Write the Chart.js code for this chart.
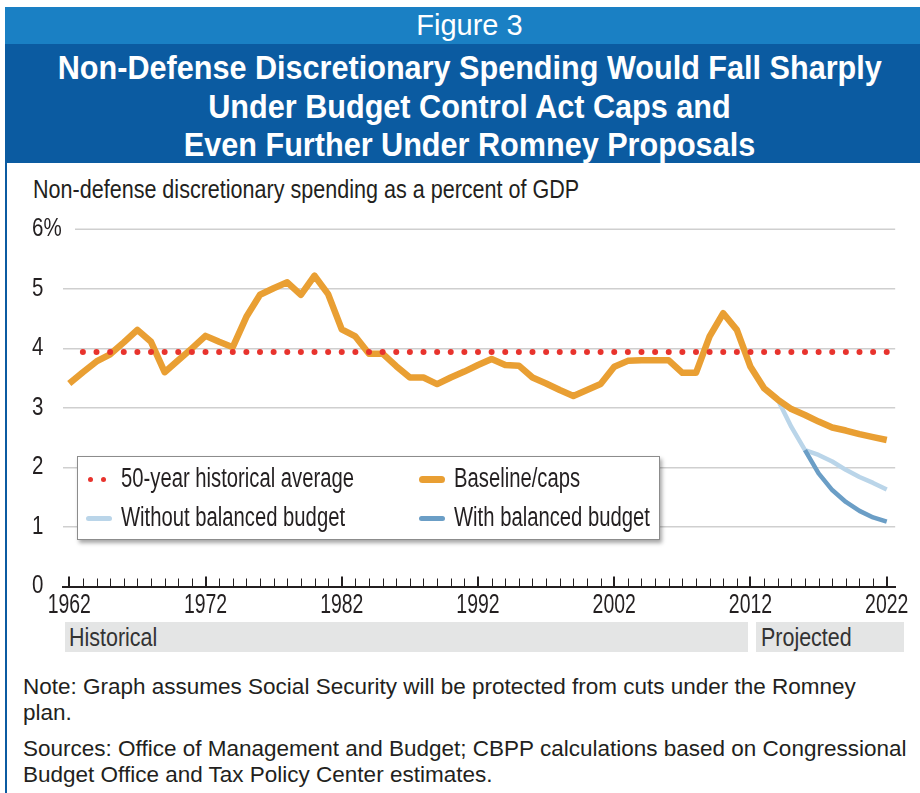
<!DOCTYPE html>
<html>
<head>
<meta charset="utf-8">
<title>Non-defense discretionary spending</title>
<script src="https://cdn.jsdelivr.net/npm/chart.js@4.4.1/dist/chart.umd.min.js"></script>
<style>
  body { margin: 0; width: 920px; height: 793px; background: #fff; position: relative; overflow: hidden;
         font-family: "Liberation Sans", Arial, sans-serif; color: #231f20; }
  .abs { position: absolute; }
  /* condensed look: squeeze text horizontally */
  .nar { display: inline-block; white-space: nowrap; transform-origin: 0 50%; }
  #figBar { left: 5px; top: 7px; width: 915px; height: 37px; background: #1a80c4; color: #fff;
            font-size: 29px; line-height: 37px; text-align: center; padding-left: 14px; box-sizing: border-box; }
  #titleBar { left: 5px; top: 44px; width: 915px; height: 119px; background: #0b5ba1; color: #fff; }
  #titleText { position: absolute; left: 7px; top: 4px; width: 915px; font-weight: bold; font-size: 34px;
               line-height: 38.5px; text-align: center; white-space: nowrap;
               transform: scaleX(0.9); transform-origin: 50% 50%; }
  #frameLine { left: 5px; top: 163px; width: 2px; height: 630px; background: #0b5ba1; }
  #subtitle { left: 33px; top: 175px; font-size: 25.5px; transform: scaleX(0.845); }
  #chartBox { left: 0; top: 170px; width: 920px; height: 450px; }
  .band { top: 622px; height: 30px; background: #e4e5e5; color: #333; overflow: hidden; }
  .band span { font-size: 26.5px; line-height: 30px; transform: scaleX(0.81); }
  #legend { left: 77px; top: 456px; width: 583px; height: 84px; background: #fff; border: 1px solid #8c8c8c;
            box-shadow: 2px 3px 4px rgba(0,0,0,0.35); box-sizing: border-box; }
  .item { position: absolute; font-size: 27px; line-height: 32px; transform: scaleX(0.75); }
  .sw { position: absolute; }
  #notes { left: 23px; top: 674px; font-size: 22.5px; line-height: 26px; color: #231f20; }
  #notes p { margin: 0 0 10px 0; }
</style>
</head>
<body>
<div id="figBar" class="abs">Figure 3</div>
<div id="titleBar" class="abs"><div id="titleText">Non-Defense Discretionary Spending Would Fall Sharply<br>Under Budget Control Act Caps and<br>Even Further Under Romney Proposals</div></div>
<div id="frameLine" class="abs"></div>
<div id="subtitle" class="abs nar">Non-defense discretionary spending as a percent of GDP</div>
<div id="chartBox" class="abs"><canvas id="chart"></canvas></div>
<div class="abs band" style="left:65px;width:683px;padding-left:4px;box-sizing:border-box;"><span class="nar">Historical</span></div>
<div class="abs band" style="left:756px;width:148px;padding-left:5px;box-sizing:border-box;"><span class="nar">Projected</span></div>
<div id="legend" class="abs"></div>
<div id="notes" class="abs">
  <p>Note: Graph assumes Social Security will be protected from cuts under the Romney<br>plan.</p>
  <p>Sources: Office of Management and Budget; CBPP calculations based on Congressional<br>Budget Office and Tax Policy Center estimates.</p>
</div>

<script>
// fiscal years 1962-2022, percent of GDP
const firstYear = 1962;
const lastYear = 2022;
const baseline = [
  3.41, 3.60, 3.78, 3.90, 4.10, 4.31, 4.11, 3.60, 3.80, 4.00,   // 1962-1971
  4.21, 4.11, 4.02, 4.53, 4.90, 5.01, 5.11, 4.90, 5.22, 4.91,   // 1972-1981
  4.32, 4.20, 3.91, 3.91, 3.70, 3.51, 3.51, 3.40, 3.51, 3.61,   // 1982-1991
  3.72, 3.82, 3.72, 3.71, 3.51, 3.41, 3.30, 3.20, 3.30, 3.40,   // 1992-2001
  3.69, 3.79, 3.80, 3.80, 3.80, 3.59, 3.59, 4.20, 4.59, 4.31,   // 2002-2011
  3.69, 3.33, 3.14, 2.98, 2.88, 2.77, 2.67, 2.62, 2.56, 2.51,   // 2012-2021
  2.46                                                          // 2022
];

// Romney proposals, starting where they leave the baseline
const withoutBalancedStart = 2014;
const withoutBalanced = [3.14, 2.68, 2.29, 2.21, 2.10, 1.96, 1.84, 1.74, 1.63];
const withBalancedStart = 2016;
const withBalanced = [2.29, 1.90, 1.62, 1.42, 1.27, 1.16, 1.09];

// 50-year average, plotted 1963-2022
const avgStart = 1963;
const historicalAverage = 3.94;

const xLabelYears = [1962, 1972, 1982, 1992, 2002, 2012, 2022];

const colors = {
  avg: '#e8332d',
  baseline: '#e99f33',
  without: '#bad5e9',
  with: '#6b9ec6',
  grid: '#cfcfcf',
  ink: '#231f20'
};

function toPoints(start, values) {
  return values.map((v, i) => ({ x: start + i, y: v }));
}

const avgPoints = [];
for (let yr = avgStart; yr <= lastYear; yr++) avgPoints.push({ x: yr, y: historicalAverage });

// linear scale whose tick labels are drawn horizontally squeezed
class NarrowLinearScale extends Chart.LinearScale {
  drawLabels(chartArea) {
    if (!this.options.ticks.display) return;
    const c = this.ctx;
    const ratio = this.options.narrow || 0.8;
    for (const item of this.getLabelItems(chartArea)) {
      const o = item.options;
      c.save();
      c.translate(o.translation[0], o.translation[1]);
      c.scale(ratio, 1);
      c.font = item.font.string;
      c.fillStyle = o.color;
      c.textAlign = o.textAlign;
      c.textBaseline = o.textBaseline;
      c.fillText(item.label, 0, item.textOffset);
      c.restore();
    }
  }
}
NarrowLinearScale.id = 'narrowLinear';
NarrowLinearScale.defaults = Chart.LinearScale.defaults;
Chart.register(NarrowLinearScale);

// small upward tick marks on the year axis, longer every 10 years
const yearTicks = {
  id: 'yearTicks',
  afterDraw(chart) {
    const xs = chart.scales.x;
    const bottom = chart.chartArea.bottom;
    const c = chart.ctx;
    c.save();
    c.strokeStyle = colors.ink;
    for (let yr = firstYear; yr <= lastYear; yr++) {
      const major = (yr - firstYear) % 10 === 0;
      const px = Math.round(xs.getPixelForValue(yr)) + (major ? 0 : 0.5);
      c.lineWidth = major ? 2 : 1;
      c.beginPath();
      c.moveTo(px, bottom);
      c.lineTo(px, bottom - (major ? 10 : 8));
      c.stroke();
    }
    c.restore();
  }
};

// the 6% rule starts after its label
const topRule = {
  id: 'topRule',
  beforeDatasetsDraw(chart) {
    const y = chart.scales.y.getPixelForValue(6);
    const c = chart.ctx;
    c.save();
    c.strokeStyle = colors.grid;
    c.lineWidth = 1.5;
    c.beginPath();
    c.moveTo(chart.chartArea.left + 12, y);
    c.lineTo(chart.chartArea.right, y);
    c.stroke();
    c.restore();
  }
};

const chart = new Chart(document.getElementById('chart'), {
  type: 'line',
  data: {
    datasets: [
      { label: '50-year historical average', data: avgPoints, showLine: false,
        pointRadius: 3, pointBackgroundColor: colors.avg, pointBorderWidth: 0 },
      { label: 'Baseline/caps', data: toPoints(firstYear, baseline), borderColor: colors.baseline,
        borderWidth: 6.5, pointRadius: 0, borderJoinStyle: 'round' },
      { label: 'With balanced budget', data: toPoints(withBalancedStart, withBalanced), borderColor: colors.with,
        borderWidth: 4.5, pointRadius: 0, borderJoinStyle: 'round' },
      { label: 'Without balanced budget', data: toPoints(withoutBalancedStart, withoutBalanced), borderColor: colors.without,
        borderWidth: 4.5, pointRadius: 0, borderJoinStyle: 'round' }
    ]
  },
  options: {
    responsive: true,
    maintainAspectRatio: false,
    animation: false,
    layout: { padding: { left: 32, top: 59.3, right: 24.3, bottom: 0 } },
    plugins: { legend: { display: false }, tooltip: { enabled: false } },
    scales: {
      x: {
        type: 'narrowLinear',
        narrow: 0.72,
        min: 1961.54,
        max: 2022.62,
        afterBuildTicks: scale => { scale.ticks = xLabelYears.map(v => ({ value: v })); },
        afterFit: scale => { scale.height = 33.5; },
        grid: { display: false, drawTicks: false },
        border: { display: true, color: colors.ink, width: 2 },
        ticks: { font: { family: 'Liberation Sans', size: 27 }, color: colors.ink, padding: 3,
                 maxRotation: 0, autoSkip: false, callback: v => String(v) }
      },
      y: {
        type: 'narrowLinear',
        narrow: 0.82,
        min: 0,
        max: 6,
        afterFit: scale => { scale.width = 31; },
        grid: { color: ctx => (ctx.tick.value === 6 ? 'rgba(0,0,0,0)' : colors.grid), lineWidth: 1.5, drawTicks: false },
        border: { display: false },
        ticks: { stepSize: 0.5, font: { family: 'Liberation Sans', size: 25 }, color: colors.ink,
                 crossAlign: 'far', padding: 0,
                 callback: v => (v === 6 ? '6%' : (Number.isInteger(v) ? String(v) : '')) }
      }
    }
  },
  plugins: [topRule, yearTicks]
});

// two-column legend inside the plot
const legendItems = [
  { label: '50-year historical average', kind: 'dots', color: colors.avg, col: 0, row: 0 },
  { label: 'Baseline/caps', kind: 'line', color: colors.baseline, col: 1, row: 0, width: 7 },
  { label: 'Without balanced budget', kind: 'line', color: colors.without, col: 0, row: 1, width: 5 },
  { label: 'With balanced budget', kind: 'line', color: colors.with, col: 1, row: 1, width: 5 }
];
const legend = document.getElementById('legend');
legendItems.forEach(it => {
  const baseX = it.col === 0 ? 8 : 341;
  const cy = it.row === 0 ? 22 : 61;
  if (it.kind === 'dots') {
    [2, 15].forEach(dx => {
      const d = document.createElement('div');
      d.className = 'sw';
      d.style.cssText = `left:${baseX + dx}px;top:${cy - 2.5}px;width:5px;height:5px;border-radius:50%;background:${it.color};`;
      legend.appendChild(d);
    });
  } else {
    const s = document.createElement('div');
    s.className = 'sw';
    s.style.cssText = `left:${baseX}px;top:${cy - it.width / 2}px;width:26px;height:${it.width}px;border-radius:${it.width / 2}px;background:${it.color};`;
    legend.appendChild(s);
  }
  const t = document.createElement('div');
  t.className = 'item nar';
  t.textContent = it.label;
  t.style.left = (baseX + 35) + 'px';
  t.style.top = (cy - 17) + 'px';
  legend.appendChild(t);
});
</script>
</body>
</html>
